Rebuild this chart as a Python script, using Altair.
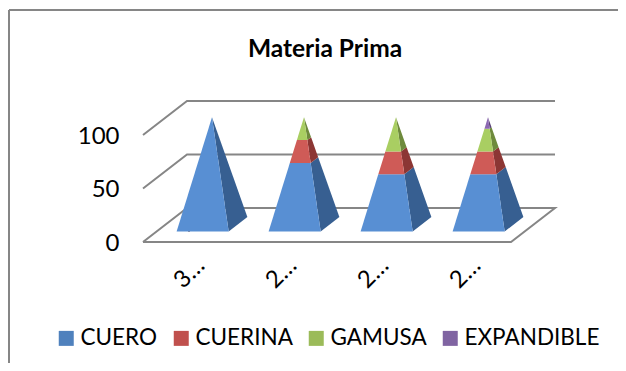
import altair as alt
import pandas as pd

categories = ["3…", "2…", "2…", "2…"]
series = ["CUERO", "CUERINA", "GAMUSA", "EXPANDIBLE"]
cuero = [100, 60, 50, 50]
cuerina = [0, 20, 20, 20]
gamusa = [0, 20, 30, 20]
expandible = [0, 0, 0, 10]
ticks = [0, 50, 100]

legend_colors = ["#4F81BD", "#C0504D", "#9BBB59", "#8064A2"]
front_colors = ["#588FD3", "#CF5B57", "#A9CE62", "#8C68B2"]
side_colors = ["#375F91", "#8C3634", "#6E8A3C", "#5A4478"]

W, H = 610, 355
PX_CAT = 92.0
PX_VAL = 1.07
X_ORIGIN = 135.0
Y_ORIGIN = 234.0
DX = 44 / PX_CAT
DY = 34 / PX_VAL
x_domain = [-X_ORIGIN / PX_CAT, (W - X_ORIGIN) / PX_CAT]
y_domain = [-(H - Y_ORIGIN) / PX_VAL, Y_ORIGIN / PX_VAL]

D0, D1 = 0.31, 0.735
HW = 0.283


def proj(x, v, d):
    return (x + d * DX, v + d * DY)


def lerp(a, b, t):
    return (a[0] + (b[0] - a[0]) * t, a[1] + (b[1] - a[1]) * t)


def poly_rows(poly, pid, name):
    ys = sorted({p[1] for p in poly})
    rows = []
    n = len(poly)
    for y in ys:
        xs = []
        for i in range(n):
            a, b = poly[i], poly[(i + 1) % n]
            lo, hi = min(a[1], b[1]), max(a[1], b[1])
            if lo <= y <= hi:
                if a[1] == b[1]:
                    xs += [a[0], b[0]]
                else:
                    xs.append(a[0] + (b[0] - a[0]) * (y - a[1]) / (b[1] - a[1]))
        rows.append({"pid": pid, "serie": name, "yv": y, "xa": min(xs), "xb": max(xs)})
    return rows


fronts, sides = [], []
table = [cuero, cuerina, gamusa, expandible]
for c in range(len(categories)):
    cx = c + 0.5
    apex = proj(cx, 100, (D0 + D1) / 2)
    fl = proj(cx - HW, 0, D0)
    fr = proj(cx + HW, 0, D0)
    br = proj(cx + HW, 0, D1)
    base = 0
    for s, name in enumerate(series):
        val = table[s][c]
        if val <= 0:
            continue
        t0, t1 = base / 100, (base + val) / 100
        base += val
        pid = f"{c}-{s}"
        fronts += poly_rows(
            [lerp(fl, apex, t0), lerp(fr, apex, t0), lerp(fr, apex, t1), lerp(fl, apex, t1)],
            pid, name)
        side = [lerp(fr, apex, t0), lerp(br, apex, t0), lerp(br, apex, t1), lerp(fr, apex, t1)]
        if t1 >= 1:
            side = side[:3]
        sides += poly_rows(side, pid, name)

grid_rows = []
n = len(categories)
for v in ticks:
    pts = [proj(0, v, 0), proj(0, v, 1), proj(n, v, 1)]
    if v == 0:
        pts += [proj(n, v, 0), proj(0, v, 0)]
    for i, p in enumerate(pts):
        grid_rows.append({"tick": v, "i": i, "x": p[0], "y": p[1]})

xs = alt.Scale(domain=x_domain, nice=False, zero=False)
ys = alt.Scale(domain=y_domain, nice=False, zero=False)
GREY = "#868686"
FONT = "Lato"

label_expr = "[" + ",".join(f"'{c}'" for c in categories) + "][floor(datum.value)]"
x_enc = alt.X(
    "x:Q", scale=xs, title=None,
    axis=alt.Axis(
        values=[i + 0.5 for i in range(n)], labelExpr=label_expr, labelAngle=-45,
        domain=False, ticks=False, grid=False, orient="bottom", offset=-(H - 245),
        labelFont=FONT, labelFontSize=24, labelColor="#000000", labelPadding=0, labelOffset=3,
        labelFlush=False, labelOverlap=False, labelBound=False,
    ),
)
y_enc = alt.Y(
    "y:Q", scale=ys, title=None,
    axis=alt.Axis(
        values=ticks, domain=False, ticks=False, grid=False, orient="left", offset=-111,
        labelFont=FONT, labelFontSize=24, labelColor="#000000", labelPadding=0, labelOffset=1,
        labelFlush=False, labelOverlap=False, labelBound=False,
    ),
)

grid = alt.Chart(pd.DataFrame(grid_rows)).mark_line(color=GREY, strokeWidth=2).encode(
    x=x_enc, y=y_enc, detail="tick:N", order="i:Q")

legend_src = alt.Chart(pd.DataFrame({"serie": series, "x": [0.5] * 4, "y": [10] * 4})).mark_square(
    size=1, opacity=1).encode(
    x=alt.X("x:Q", scale=xs),
    y=alt.Y("y:Q", scale=ys),
    color=alt.Color(
        "serie:N", scale=alt.Scale(domain=series, range=legend_colors),
        legend=alt.Legend(
            title=None, orient="none", legendX=47, legendY=319, columns=4,
            symbolType="square", symbolSize=225, symbolStrokeWidth=0, symbolOpacity=1,
            labelFont=FONT, labelFontSize=22.5, labelColor="#000000", labelOffset=3,
            columnPadding=12, labelLimit=300,
        ),
    ),
)


def faces(rows, colors):
    return alt.Chart(pd.DataFrame(rows)).mark_area(orient="horizontal").encode(
        y=alt.Y("yv:Q", scale=ys),
        x=alt.X("xa:Q", scale=xs),
        x2="xb:Q",
        color=alt.Color("serie:N", scale=alt.Scale(domain=series, range=colors), legend=None),
        detail="pid:N",
    )


border_top = alt.Chart().mark_rule(color=GREY, strokeWidth=2).encode(
    x=alt.value(1), x2=alt.value(W), y=alt.value(2))
border_left = alt.Chart().mark_rule(color=GREY, strokeWidth=2).encode(
    y=alt.value(2), y2=alt.value(H), x=alt.value(1))

chart = (
    alt.layer(border_top, border_left, grid, legend_src, faces(sides, side_colors), faces(fronts, front_colors))
    .resolve_scale(color="independent")
    .properties(
        width=W, height=H, padding=0,
        autosize=alt.AutoSizeParams(type="none"),
        title=alt.TitleParams(
            "Materia Prima", font=FONT, fontSize=24.5, fontWeight="bold", color="#000000",
            anchor="middle", dx=12, offset=-54),
    )
    .configure_view(stroke=None)
)
chart.save("out.html", embed_options={"renderer": "svg", "actions": False})
